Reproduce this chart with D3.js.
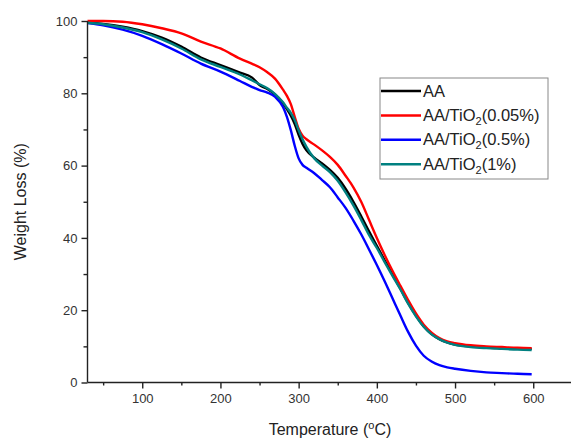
<!DOCTYPE html>
<html>
<head>
<meta charset="utf-8">
<script src="https://cdn.jsdelivr.net/npm/d3@7"></script>
<style>
  body { margin: 0; background: #fff; }
  svg { display: block; font-family: "Liberation Sans", Arial, sans-serif; }
</style>
</head>
<body>
<svg id="chart" width="571" height="439"></svg>
<script>
/********************************************************
 ********************* Data *****************************
 ********************************************************/
var temps = [30, 50, 75, 100, 125, 150, 175, 200, 225, 240, 250, 260, 270, 280, 285, 290, 295, 300, 305, 310,
             320, 330, 340, 350, 360, 370, 380, 390, 400, 410, 420, 430, 440, 450, 460, 470, 480, 490, 500,
             520, 540, 560, 580, 598];

var aa      = [99.6, 99.2, 98.4, 97.2, 95.4, 92.9, 89.9, 87.8, 85.7, 84.4, 82.3, 81.2, 79.6, 77.2, 75.6, 73.8, 71.5, 68.5, 66.0, 64.2,
               62.2, 60.6, 58.8, 56.6, 53.6, 50.0, 46.0, 41.8, 37.8, 33.8, 29.9, 26.0, 22.0, 18.5, 15.5, 13.4, 12.0, 11.1, 10.5,
               10.0, 9.7, 9.5, 9.4, 9.3];
var tio005  = [100, 100, 99.8, 99.1, 98.0, 96.6, 94.3, 92.4, 89.6, 88.2, 87.2, 85.8, 84.0, 81.0, 79.3, 77.0, 73.5, 70.2, 68.3, 67.3,
               65.8, 64.2, 62.4, 60.2, 57.2, 54.0, 50.0, 45.0, 40.0, 35.3, 30.9, 26.8, 22.8, 19.1, 16.0, 13.8, 12.3, 11.4, 10.9,
               10.3, 10.0, 9.8, 9.6, 9.5];
var tio05   = [99.4, 98.8, 97.6, 95.9, 93.6, 91.0, 88.2, 86.0, 83.4, 81.8, 80.9, 80.2, 79.0, 76.2, 73.5, 69.8, 65.5, 62.0, 60.2, 59.4,
               57.9, 56.0, 54.0, 51.2, 48.3, 44.8, 41.0, 36.8, 32.5, 28.0, 23.3, 18.6, 14.0, 10.2, 7.4, 5.8, 4.8, 4.2, 3.8,
               3.2, 2.8, 2.6, 2.4, 2.3];
var tio1    = [99.5, 99.1, 98.2, 96.9, 94.9, 92.4, 89.4, 87.3, 85.2, 83.6, 82.5, 81.4, 79.8, 77.5, 76.0, 74.6, 72.6, 69.8, 67.3, 65.2,
               62.0, 60.0, 58.2, 55.8, 52.6, 49.0, 45.0, 40.8, 37.2, 33.3, 29.5, 25.8, 21.8, 18.3, 15.4, 13.3, 12.0, 11.0, 10.4,
               9.8, 9.5, 9.3, 9.1, 9.0];

var seriesNames  = ["AA", "AA/TiO2(0.05%)", "AA/TiO2(0.5%)", "AA/TiO2(1%)"];
var seriesColors = ["#000000", "#ff0000", "#0000ff", "#008080"];
var seriesValues = [aa, tio005, tio05, tio1];

var xTicks = [100, 200, 300, 400, 500, 600];
var xMinor = [50, 150, 250, 350, 450, 550, 650];
var yTicks = [0, 20, 40, 60, 80, 100];
var yMinor = [10, 30, 50, 70, 90];

/********************************************************
 ********************* Chart ****************************
 ********************************************************/
var svg = d3.select("#chart");

var x = d3.scaleLinear().domain([30, 680]).range([87.5, 595.8]);
var y = d3.scaleLinear().domain([0, 100]).range([382.5, 21]);

// curves
var line = d3.line()
    .x(function(d) { return x(d[0]); })
    .y(function(d) { return y(d[1]); })
    .curve(d3.curveMonotoneX);

seriesValues.forEach(function(vals, i) {
  var pts = temps.map(function(t, k) { return [t, vals[k]]; });
  svg.append("path")
      .attr("d", line(pts))
      .attr("fill", "none")
      .attr("stroke", seriesColors[i])
      .attr("stroke-width", 2.4)
      .attr("stroke-linejoin", "round");
});

// axes
var axisColor = "#222";

var gx = svg.append("g").attr("transform", "translate(0," + y(0) + ")");
gx.call(d3.axisBottom(x).tickValues(xTicks).tickSize(6).tickPadding(5));
gx.append("g").call(d3.axisBottom(x).tickValues(xMinor).tickSize(3).tickFormat(""))
  .select(".domain").remove();

var gy = svg.append("g").attr("transform", "translate(" + x(30) + ",0)");
gy.call(d3.axisLeft(y).tickValues(yTicks).tickSize(6).tickPadding(4));
gy.append("g").call(d3.axisLeft(y).tickValues(yMinor).tickSize(4).tickFormat(""))
  .select(".domain").remove();

svg.selectAll(".domain").attr("stroke", axisColor).attr("stroke-width", 1.4);
svg.selectAll(".tick line").attr("stroke", axisColor).attr("stroke-width", 1.4);
svg.selectAll(".tick text")
    .attr("fill", "#333")
    .style("font-size", "13px")
    .style("font-family", "Liberation Sans, Arial, sans-serif");
gx.selectAll(".domain").attr("d", "M" + x(30) + ",0H" + x(680));
gy.selectAll(".domain").attr("d", "M0," + y(0) + "V" + y(100));

// axis titles
var xt = svg.append("text")
    .attr("x", 330)
    .attr("y", 435)
    .attr("text-anchor", "middle")
    .attr("fill", "#222")
    .style("font-size", "16px");
xt.append("tspan").text("Temperature (");
xt.append("tspan").attr("dy", -6).style("font-size", "11px").text("o");
xt.append("tspan").attr("dy", 6).text("C)");

svg.append("text")
    .attr("transform", "translate(26," + ((y(0) + y(100)) / 2) + ") rotate(-90)")
    .attr("text-anchor", "middle")
    .attr("fill", "#222")
    .style("font-size", "16px")
    .text("Weight Loss (%)");

// legend
var legend = svg.append("g").attr("transform", "translate(380,78)");
legend.append("rect")
    .attr("width", 168).attr("height", 101)
    .attr("fill", "#fff")
    .attr("stroke", "#888")
    .attr("stroke-width", 1);

seriesNames.forEach(function(name, i) {
  var ry = 13 + i * 24.4;
  legend.append("line")
      .attr("x1", 1).attr("x2", 41)
      .attr("y1", ry).attr("y2", ry)
      .attr("stroke", seriesColors[i])
      .attr("stroke-width", 2.5);
  var t = legend.append("text")
      .attr("x", 43)
      .attr("y", ry + 5.5)
      .attr("fill", "#222")
      .style("font-size", "16.5px");
  var parts = name.split("TiO2");
  if (parts.length > 1) {
    t.append("tspan").text(parts[0] + "TiO");
    t.append("tspan").attr("dy", 4).style("font-size", "11px").text("2");
    t.append("tspan").attr("dy", -4).text(parts[1]);
  } else {
    t.text(name);
  }
});
</script>
</body>
</html>
